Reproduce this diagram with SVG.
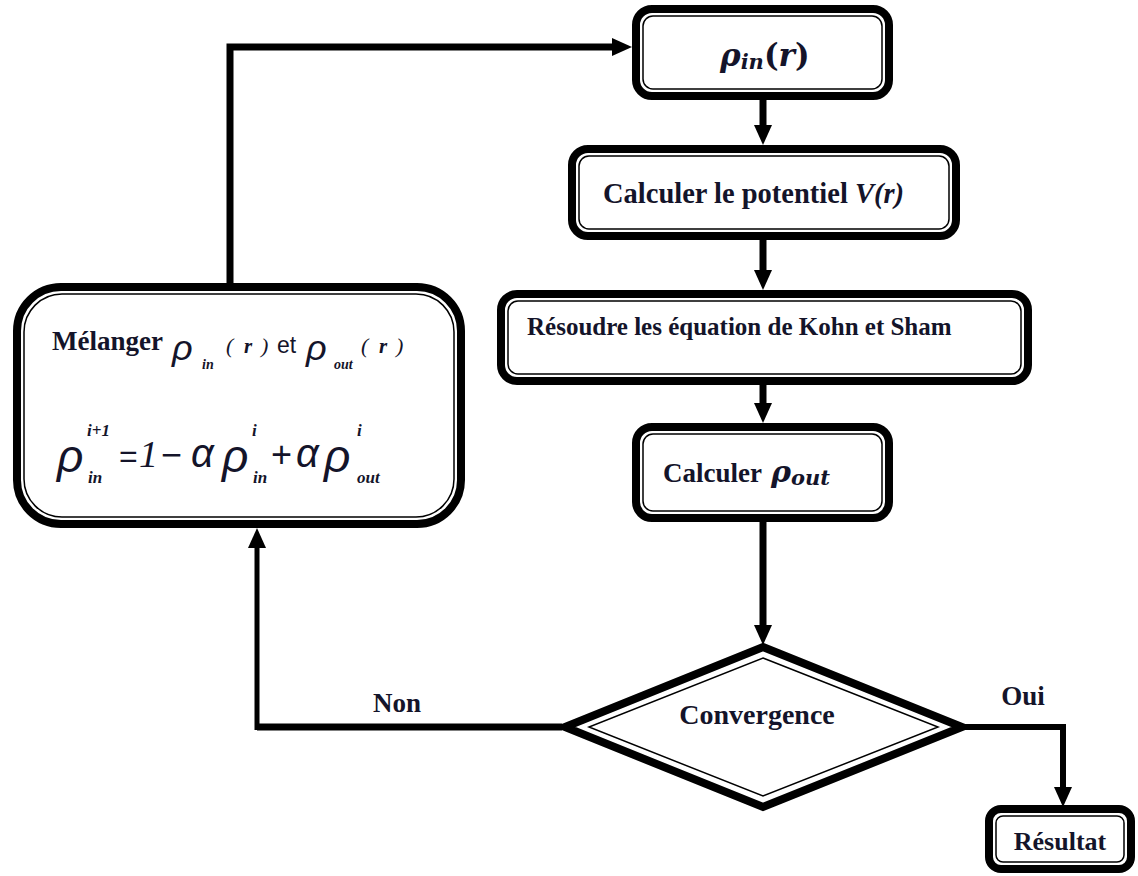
<svg xmlns="http://www.w3.org/2000/svg" width="1138" height="876" viewBox="0 0 1138 876">
<style>
.outer{fill:#fff;stroke:#000;stroke-width:8}
.inner{fill:none;stroke:#000;stroke-width:1.5}
.conn{fill:none;stroke:#000;stroke-width:7;stroke-linejoin:miter}
.lbl{font-family:"Liberation Serif",serif;font-weight:bold;fill:#14142a}
.m{font-family:"Liberation Sans",sans-serif;font-style:italic;fill:#14142a}
.ms{font-family:"Liberation Serif",serif;font-style:italic;font-weight:bold;fill:#14142a}
.mn{font-family:"Liberation Serif",serif;font-style:italic;font-weight:normal;fill:#14142a}
.cm{font-family:"DejaVu Serif",serif;font-weight:bold;fill:#14142a}
</style>
<defs>
<marker id="arr" markerUnits="userSpaceOnUse" markerWidth="22" markerHeight="20" refX="8" refY="9" orient="auto">
<path d="M0,0 L20,9 L0,18 z" fill="#000"/>
</marker>
</defs>

<g id="connectors">
<path class="conn" d="M763 100 V133" marker-end="url(#arr)"/>
<path class="conn" d="M763 240 V278" marker-end="url(#arr)"/>
<path class="conn" d="M763 385 V411" marker-end="url(#arr)"/>
<path class="conn" d="M763 522 V633" marker-end="url(#arr)"/>
<path class="conn" d="M562 727 H257" />
<path class="conn" style="stroke-width:5" d="M257 730 V540" marker-end="url(#arr)"/>
<path class="conn" d="M230 290 V47 H620" marker-end="url(#arr)"/>
<path class="conn" style="stroke-width:6" d="M964 727 H1063 V795" marker-end="url(#arr)"/>
</g>

<g id="node-rho-in">
<rect class="outer" x="636" y="9" width="253" height="87" rx="16"/>
<rect class="inner" x="643" y="16" width="239" height="73" rx="10"/>
<text class="cm" x="720" y="66" font-size="31" font-style="italic">ρ<tspan font-size="21" dy="3">in</tspan><tspan dy="-3" font-style="normal">(</tspan><tspan>r</tspan><tspan font-style="normal">)</tspan></text>
</g>

<g id="node-potentiel">
<rect class="outer" x="572" y="149" width="384" height="87" rx="16"/>
<rect class="inner" x="579" y="156" width="370" height="73" rx="10"/>
<text class="lbl" x="603" y="203" font-size="28.5">Calculer le potentiel <tspan font-style="italic">V(r)</tspan></text>
</g>

<g id="node-kohn-sham">
<rect class="outer" x="501" y="294" width="527" height="87" rx="16"/>
<rect class="inner" x="508" y="301" width="513" height="73" rx="10"/>
<text class="lbl" x="527" y="335" font-size="25">Résoudre les équation de Kohn et Sham</text>
</g>

<g id="node-rho-out">
<rect class="outer" x="636" y="427" width="253" height="91" rx="16"/>
<rect class="inner" x="643" y="434" width="239" height="77" rx="10"/>
<text class="lbl" x="663" y="482" font-size="27">Calculer</text>
<text class="cm" x="771" y="482" font-size="30" font-style="italic">ρ<tspan font-size="21" dy="3">out</tspan></text>
</g>

<g id="node-melanger">
<rect class="outer" x="17" y="287" width="444" height="237" rx="44"/>
<rect class="inner" x="24" y="294" width="430" height="223" rx="38"/>
<text class="lbl" x="52" y="350" font-size="27">Mélanger</text>
<text class="m" x="172" y="360" font-size="36">ρ</text>
<text class="ms" x="202" y="369" font-size="14">in</text>
<text class="mn" x="226" y="353" font-size="22">(</text>
<text class="ms" x="244" y="353" font-size="21">r</text>
<text class="mn" x="261" y="353" font-size="22">)</text>
<text x="277" y="353" font-size="23" font-family="Liberation Sans, sans-serif" fill="#14142a">et</text>
<text class="m" x="306" y="360" font-size="36">ρ</text>
<text class="ms" x="334" y="369" font-size="14">out</text>
<text class="mn" x="361" y="353" font-size="22">(</text>
<text class="ms" x="379" y="353" font-size="21">r</text>
<text class="mn" x="396" y="353" font-size="22">)</text>

<text class="m" x="57" y="472" font-size="46">ρ</text>
<text class="ms" x="87" y="436" font-size="17">i+1</text>
<text class="ms" x="88" y="483" font-size="17">in</text>
<text x="119" y="467" font-size="32" font-family="Liberation Sans, sans-serif" fill="#14142a">=</text>
<text class="mn" x="139" y="467" font-size="38">1</text>
<text x="161" y="467" font-size="36" font-family="Liberation Sans, sans-serif" fill="#14142a">−</text>
<text class="m" x="191" y="467" font-size="40">α</text>
<text class="m" x="222" y="472" font-size="46">ρ</text>
<text class="ms" x="252" y="436" font-size="17">i</text>
<text class="ms" x="253" y="483" font-size="17">in</text>
<text x="271" y="467" font-size="36" font-family="Liberation Sans, sans-serif" fill="#14142a">+</text>
<text class="m" x="296" y="467" font-size="40">α</text>
<text class="m" x="324" y="472" font-size="46">ρ</text>
<text class="ms" x="357" y="436" font-size="17">i</text>
<text class="ms" x="357" y="483" font-size="17">out</text>
</g>

<g id="node-convergence">
<polygon class="outer" points="763,647 962,727 763,807 565,727" style="stroke-linejoin:miter"/>
<polygon class="inner" points="763,658 938,727 763,796 589,727"/>
<text class="lbl" x="757" y="724" font-size="28" text-anchor="middle">Convergence</text>
</g>

<g id="node-resultat">
<rect class="outer" x="989" y="809" width="142" height="60" rx="12"/>
<rect class="inner" x="996" y="816" width="128" height="46" rx="7"/>
<text class="lbl" x="1060" y="850" font-size="26" text-anchor="middle">Résultat</text>
</g>

<g id="labels">
<text class="lbl" x="397" y="712" font-size="27" text-anchor="middle">Non</text>
<text class="lbl" x="1023" y="705" font-size="27" text-anchor="middle">Oui</text>
</g>
</svg>
